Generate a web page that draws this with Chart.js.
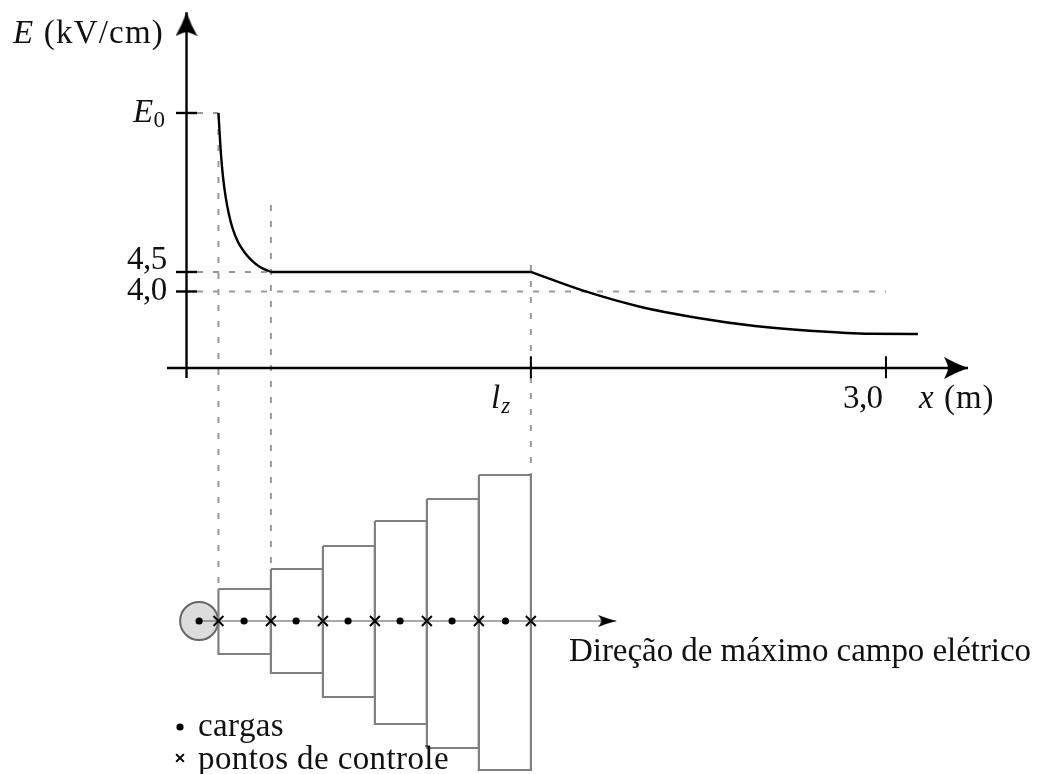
<!DOCTYPE html>
<html>
<head>
<meta charset="utf-8">
<style>
  html, body { margin: 0; padding: 0; background: #fff; }
  canvas { display: block; }
</style>
<script src="https://cdn.jsdelivr.net/npm/chart.js@4/dist/chart.umd.min.js"></script>
</head>
<body>
<canvas id="chart" width="1048" height="774"></canvas>
<script>
/* campo elétrico ao longo da direção de máximo campo */

// curva E(x), em três trechos
const decayX = [0.137, 0.142, 0.148, 0.157, 0.169, 0.182, 0.197, 0.221, 0.247, 0.277, 0.315, 0.362];
const decayE = [8.577, 8.064, 7.5, 6.91, 6.38, 5.977, 5.632, 5.27, 5.02, 4.81, 4.628, 4.5];
const plateauX = [0.362, 1.477];
const plateauE = [4.5, 4.5];
const tailX = [1.477, 1.705, 1.949, 2.194, 2.438, 2.687, 2.931, 3.137];
const tailE = [4.5, 4.013, 3.603, 3.321, 3.115, 2.987, 2.915, 2.91];

// marcas dos eixos
const yTicks = [8.577, 4.5, 4.0];
const xTicks = [1.477, 3.0];
const axisCrossE = 2.038;

// linhas guia tracejadas
const guideVX = [0.137, 0.362, 1.477];
const guideVTop = [8.577, 6.218, 4.68];
const guideVBottom = [-3.628, -3.115, -0.705];
const guideHE = [8.577, 4.5, 4.0];
const guideHEnd = [0.137, 0.358, 3.0];

// painéis e elementos do diagrama inferior (altura em relação ao eixo central)
const panelEdges = [0.137, 0.362, 0.585, 0.808, 1.031, 1.254, 1.477];
const panelTop = [32, 52, 75, 100, 122, 146];
const panelBottom = [-33, -52, -76, -103, -127, -149];
const chargeX = [0.054, 0.247, 0.47, 0.693, 0.916, 1.139, 1.368];
const sourceX = [0.054];
const directionEnd = 1.843;
const legendX = -0.028;
const legendChargeY = -106;
const legendCrossY = -137;

const CM = '"Liberation Serif"';
const labels = [
  { runs: [['E', 'italic'], [' (kV/cm)', '']], left: 13, base: 43, spacing: 1.2 },
  { runs: [['E', 'italic'], ['0', '', 23, 5]], left: 133, base: 122, spacing: 0.3 },
  { runs: [['4,5', '']], left: 127, base: 269, spacing: -0.5 },
  { runs: [['4,0', '']], left: 127, base: 300, spacing: -0.5 },
  { runs: [['l', 'italic'], ['z', 'italic', 23, 5]], left: 491, base: 408, spacing: 1 },
  { runs: [['3,0', '']], left: 843, base: 408, spacing: -0.6 },
  { runs: [['x', 'italic'], [' (m)', '']], left: 919, base: 408, spacing: 1 },
  { runs: [['Direção de máximo campo elétrico', '']], left: 569, base: 661, spacing: -0.05 },
  { runs: [['cargas', '']], left: 198, base: 736, spacing: 0.4 },
  { runs: [['pontos de controle', '']], left: 198, base: 769, spacing: 0.4 },
];

function pairs(xs, ys) { return xs.map((x, i) => ({ x, y: ys[i] })); }

// seta em canvas, com a ponta no centro da imagem
function arrowHead(len, half, notch, color) {
  const c = document.createElement('canvas');
  c.width = len * 2;
  c.height = half * 2;
  const g = c.getContext('2d');
  g.fillStyle = color;
  g.beginPath();
  g.moveTo(len, half);
  g.quadraticCurveTo(len / 2, half * 0.62, 0, 0);
  g.quadraticCurveTo(notch, half * 0.7, notch, half);
  g.quadraticCurveTo(notch, half * 1.3, 0, half * 2);
  g.quadraticCurveTo(len / 2, half * 1.38, len, half);
  g.fill();
  return c;
}

function line(data, color, width, extra) {
  return Object.assign({ data, showLine: true, borderColor: color, borderWidth: width, pointRadius: 0, tension: 0 }, extra);
}
function marks(data, style, radius, extra) {
  return Object.assign({ data, showLine: false, pointStyle: style, pointRadius: radius,
    pointBackgroundColor: '#000', pointBorderColor: '#000', pointBorderWidth: 2 }, extra);
}

// lista em ordem de desenho: de baixo para cima
const layers = [];

const DASH = { borderDash: [6, 10] };
guideVX.forEach((x, i) => layers.push(line(pairs([x, x], [guideVTop[i], guideVBottom[i]]), '#9a9a9a', 2, DASH)));
guideHE.forEach((e, i) => layers.push(line(pairs([0.045, guideHEnd[i]], [e, e]), '#9a9a9a', 2, DASH)));

layers.push(line(pairs([-0.084, 3.352], [axisCrossE, axisCrossE]), '#000', 2.4));
layers.push(line(pairs([0, 0], [1.782, 11.16]), '#000', 2.4));
yTicks.forEach(e => layers.push(line(pairs([-0.045, 0.045], [e, e]), '#000', 2.4)));
xTicks.forEach(x => layers.push(line(pairs([x, x], [axisCrossE + 0.3, axisCrossE - 0.26]), '#000', 2)));
layers.push(marks(pairs([3.352], [axisCrossE]), arrowHead(24, 11, 4, '#000'), 24));
layers.push(marks(pairs([0], [11.16]), arrowHead(24, 11, 4, '#000'), 24, { pointRotation: -90 }));

layers.push(line(pairs(decayX, decayE), '#000', 2.4, { cubicInterpolationMode: 'monotone' }));
layers.push(line(pairs(plateauX, plateauE), '#000', 2.4));
layers.push(line(pairs(tailX, tailE), '#000', 2.4, { cubicInterpolationMode: 'monotone' }));

layers.push(marks(pairs(sourceX, [0]), 'circle', 19, {
  yAxisID: 'y2', pointBackgroundColor: '#dcdcdc', pointBorderColor: '#666', pointBorderWidth: 2,
}));
panelTop.forEach((top, i) => {
  const a = panelEdges[i], b = panelEdges[i + 1], bot = panelBottom[i];
  layers.push(line(pairs([a, b, b, a, a], [top, top, bot, bot, top]), '#808080', 2.2, { yAxisID: 'y2', borderJoinStyle: 'miter' }));
});
layers.push(line(pairs([sourceX[0], directionEnd], [0, 0]), '#555', 1.2, { yAxisID: 'y2' }));
layers.push(marks(pairs([directionEnd], [0]), arrowHead(18, 6, 3, '#000'), 18, { yAxisID: 'y2' }));
layers.push(marks(pairs(chargeX, chargeX.map(() => 0)), 'circle', 3.6, { yAxisID: 'y2', pointBorderWidth: 0 }));
layers.push(marks(pairs(panelEdges, panelEdges.map(() => 0)), 'crossRot', 7, { yAxisID: 'y2' }));
layers.push(marks(pairs([legendX], [legendChargeY]), 'circle', 3.6, { yAxisID: 'y2', pointBorderWidth: 0 }));
layers.push(marks(pairs([legendX], [legendCrossY]), 'crossRot', 5.5, { yAxisID: 'y2' }));

const textPlugin = {
  id: 'textos',
  afterDatasetsDraw(chart) {
    const ctx = chart.ctx;
    ctx.save();
    ctx.fillStyle = '#111';
    ctx.textBaseline = 'alphabetic';
    labels.forEach(l => {
      let x = l.left;
      ctx.letterSpacing = l.spacing + 'px';
      l.runs.forEach(([text, style, size, drop]) => {
        ctx.font = `${style} ${size || 33}px ${CM}`;
        ctx.fillText(text, x, l.base + (drop || 0));
        x += ctx.measureText(text).width;
      });
    });
    ctx.restore();
  },
};

new Chart(document.getElementById('chart'), {
  type: 'scatter',
  data: { datasets: layers.reverse() },
  options: {
    responsive: false,
    animation: false,
    events: [],
    layout: { padding: 0, autoPadding: false },
    plugins: { legend: { display: false }, tooltip: { enabled: false } },
    scales: {
      x: { type: 'linear', display: false, min: -0.8, max: 3.695 },
      y: { type: 'linear', display: false, min: -8.372, max: 11.474 },
      y2: { type: 'linear', display: false, min: -153, max: 621 },
    },
  },
  plugins: [textPlugin],
});
</script>
</body>
</html>
